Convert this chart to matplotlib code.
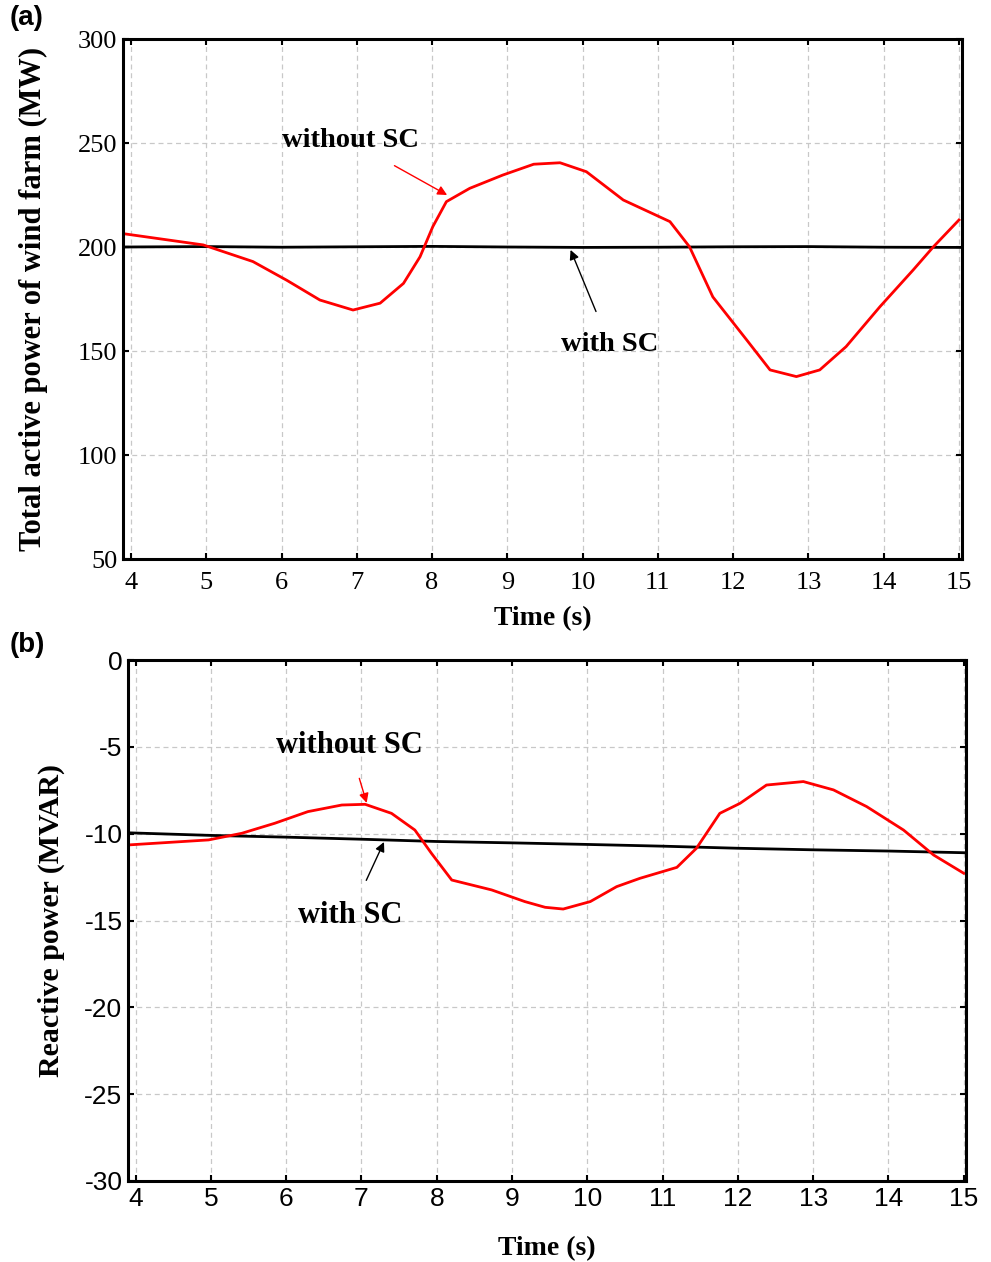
import numpy as np
import matplotlib.pyplot as plt

plt.rcParams['axes.unicode_minus'] = False

# Panel (a): total active power (MW)
t_a_red = [3.9, 4.96, 5.62, 6.07, 6.51, 6.95, 7.31, 7.62, 7.84, 8.01, 8.19, 8.5, 8.94, 9.35, 9.7,
           10.05, 10.54, 11.16, 11.42, 11.73, 12.18, 12.49, 12.84, 13.15, 13.5, 13.95, 14.39, 14.66, 15.0]
p_a_red = [206.4, 201, 193, 184, 174.5, 169.7, 173, 182.5, 195.3, 209.8, 221.8, 228.2, 234.6, 239.8, 240.5,
           236.2, 222.6, 212.2, 200.1, 176, 155.3, 140.9, 137.7, 140.9, 152.1, 171.3, 188.9, 200.1, 213]
t_a_blk = [3.9, 5.0, 6.0, 7.0, 8.0, 9.0, 10.0, 11.0, 12.0, 13.0, 14.0, 15.04]
p_a_blk = [200.0, 200.2, 199.9, 200.1, 200.3, 200.0, 199.8, 199.9, 200.1, 200.2, 199.9, 199.8]

# Panel (b): reactive power (MVAR)
t_b_red = [3.9, 4.97, 5.41, 5.85, 6.29, 6.74, 7.05, 7.4, 7.71, 7.93, 8.2, 8.73, 9.17, 9.44, 9.68,
           10.04, 10.39, 10.7, 11.19, 11.45, 11.76, 12.03, 12.38, 12.87, 13.27, 13.71, 14.2, 14.6, 15.0]
q_b_red = [-10.65, -10.36, -9.98, -9.4, -8.73, -8.35, -8.31, -8.83, -9.79, -11.13, -12.67, -13.24, -13.91, -14.24,
           -14.34, -13.91, -13.05, -12.57, -11.94, -10.84, -8.83, -8.25, -7.2, -7.0, -7.48, -8.44, -9.79, -11.23, -12.28]
t_b_blk = [3.9, 5.0, 6.0, 7.0, 8.0, 9.0, 10.0, 11.0, 12.0, 13.0, 14.0, 15.03]
q_b_blk = [-9.95, -10.1, -10.2, -10.32, -10.45, -10.53, -10.62, -10.72, -10.84, -10.93, -11.0, -11.1]

serif = ['Liberation Serif', 'DejaVu Serif']
sans = ['Liberation Sans', 'DejaVu Sans']
RED = '#ff0000'

fig = plt.figure(figsize=(9.91, 12.62), dpi=100)

W, H = 991.0, 1262.0
ax1 = fig.add_axes([123 / W, 1 - 559 / H, (962 - 123) / W, (559 - 39) / H])
ax2 = fig.add_axes([128 / W, 1 - 1181 / H, (966 - 128) / W, (1181 - 660) / H])


def style_axes(ax, tickfont, xpad):
    for s in ax.spines.values():
        s.set_linewidth(2.2)
    ax.grid(True, linestyle=(0, (4, 3)), color='#c8c8c8', linewidth=0.9)
    ax.tick_params(direction='in', length=4, width=1.5, top=True, right=True)
    ax.tick_params(axis='x', pad=xpad)
    ax.tick_params(axis='y', pad=4)
    for lab in ax.get_xticklabels() + ax.get_yticklabels():
        lab.set_family(tickfont)
        lab.set_fontsize(19)


# ---------- (a)
ax1.plot(t_a_blk, p_a_blk, color='black', linewidth=2)
ax1.plot(t_a_red, p_a_red, color=RED, linewidth=2)
ax1.set_xlim(3.894, 15.04)
ax1.set_ylim(50, 300)
ax1.set_xticks(range(4, 16))
ax1.set_yticks(range(50, 301, 50))
style_axes(ax1, serif, 9)
ax1.set_xlabel('Time (s)', family=serif, fontweight='bold', fontsize=20, va='center')
ax1.xaxis.set_label_coords(0.5, -0.115)
ax1.set_ylabel('Total active power of wind farm (MW)', family=serif, fontweight='bold', fontsize=22, va='center')
ax1.yaxis.set_label_coords(-0.107, 0.5)
ax1.annotate('without SC', xy=(8.2, 225), xytext=(6.91, 251), ha='center', va='center',
             family=serif, fontweight='bold', fontsize=20.5,
             arrowprops=dict(arrowstyle='-|>', color=RED, lw=1, shrinkA=14, shrinkB=0, mutation_scale=14))
ax1.annotate('with SC', xy=(9.84, 198.6), xytext=(10.36, 153), ha='center', va='center',
             family=serif, fontweight='bold', fontsize=20.5,
             arrowprops=dict(arrowstyle='-|>', color='black', lw=1, shrinkA=14, shrinkB=0, mutation_scale=14))

# ---------- (b)
ax2.plot(t_b_blk, q_b_blk, color='black', linewidth=2)
ax2.plot(t_b_red, q_b_red, color=RED, linewidth=2)
ax2.set_xlim(3.9, 15.03)
ax2.set_ylim(-30, 0)
ax2.set_xticks(range(4, 16))
ax2.set_yticks(range(-30, 1, 5))
style_axes(ax2, sans, 4)
ax2.set_xlabel('Time (s)', family=serif, fontweight='bold', fontsize=20, va='center')
ax2.xaxis.set_label_coords(0.5, -0.129)
ax2.set_ylabel('Reactive power (MVAR)', family=serif, fontweight='bold', fontsize=21.5, va='center')
ax2.yaxis.set_label_coords(-0.091, 0.5)
ax2.annotate('without SC', xy=(7.07, -8.23), xytext=(6.84, -4.9), ha='center', va='center',
             family=serif, fontweight='bold', fontsize=22,
             arrowprops=dict(arrowstyle='-|>', color=RED, lw=1, shrinkA=12, shrinkB=0, mutation_scale=14))
ax2.annotate('with SC', xy=(7.3, -10.48), xytext=(6.85, -14.7), ha='center', va='center',
             family=serif, fontweight='bold', fontsize=22,
             arrowprops=dict(arrowstyle='-|>', color='black', lw=1, shrinkA=14, shrinkB=0, mutation_scale=14))

fig.text(10 / W, 1 - 18 / H, '(a)', family=sans, fontweight='bold', fontsize=20, va='center', ha='left')
fig.text(10 / W, 1 - 645 / H, '(b)', family=sans, fontweight='bold', fontsize=20, va='center', ha='left')

fig.savefig('out.png', dpi=100)
